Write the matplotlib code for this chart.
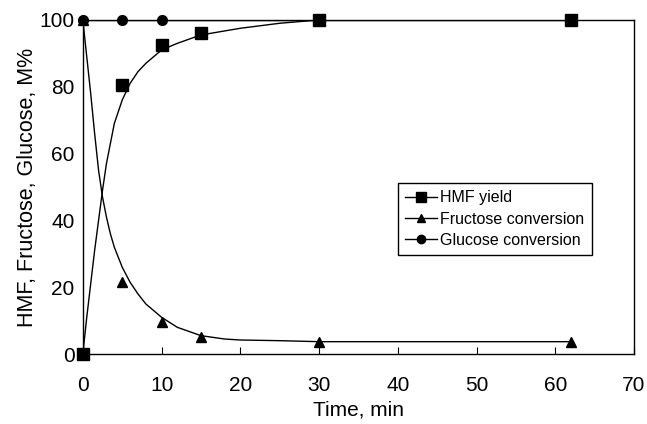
import matplotlib
matplotlib.use("Agg")
import matplotlib.pyplot as plt
from matplotlib.lines import Line2D

plt.rcParams['font.family'] = ['Liberation Sans', 'DejaVu Sans']

# measured data points
hmf_t = [0, 5, 10, 15, 30, 62]
hmf_y = [0, 80.5, 92.5, 96, 100, 100]
fru_t = [0, 5, 10, 15, 30, 62]
fru_y = [100, 21.5, 9.5, 5, 3.5, 3.5]
glu_t = [0, 5, 10]
glu_y = [100, 100, 100]

# fitted curves
hmf_fit_t = [0, 0.5, 1, 1.5, 2, 2.5, 3, 3.5, 4, 5, 6, 7, 8, 10, 12, 15, 20, 25, 30, 62]
hmf_fit_y = [0, 11, 21, 31, 40, 49, 57, 63, 69, 76, 81, 84.5, 87, 91, 93, 95.5, 97.5, 99, 100, 100]
fru_fit_t = [0, 0.5, 1, 1.5, 2, 2.5, 3, 3.5, 4, 5, 6, 7, 8, 10, 12, 15, 18, 20, 25, 30, 62]
fru_fit_y = [100, 89, 78, 66, 55, 47, 41, 36, 32, 26, 21.5, 18, 15, 11, 8, 5.5, 4.5, 4.2, 4, 3.7, 3.7]

fig = plt.figure(figsize=(6.47, 4.24), dpi=100)
ax = fig.add_axes([0.128, 0.165, 0.852, 0.788])

ax.plot(hmf_fit_t, hmf_fit_y, color='black', lw=1)
ax.plot(fru_fit_t, fru_fit_y, color='black', lw=1)
ax.plot(glu_t + [62], glu_y + [100], color='black', lw=1)

ax.plot(glu_t, glu_y, 'o', color='black', ms=7, clip_on=False, zorder=5)
ax.plot(fru_t, fru_y, '^', color='black', ms=7, clip_on=False, zorder=5)
ax.plot(hmf_t, hmf_y, 's', color='black', ms=8, clip_on=False, zorder=6)

h1 = Line2D([], [], color='black', lw=1, marker='s', ms=7)
h2 = Line2D([], [], color='black', lw=1, marker='^', ms=6)
h3 = Line2D([], [], color='black', lw=1, marker='o', ms=6)
leg = ax.legend([h1, h2, h3], ['HMF yield', 'Fructose conversion', 'Glucose conversion'],
                loc='lower left', bbox_to_anchor=(0.572, 0.296), fontsize=11.5,
                frameon=True, fancybox=False, edgecolor='black', framealpha=1,
                handlelength=2.0, handletextpad=0.2, borderpad=0.45, labelspacing=0.4,
                borderaxespad=0)
leg.get_frame().set_linewidth(1)

ax.set_xlim(0, 70)
ax.set_ylim(0, 100)
ax.set_xticks(range(0, 71, 10))
ax.set_yticks(range(0, 101, 20))
ax.tick_params(axis='x', direction='in', length=5, labelsize=15, pad=16)
ax.tick_params(axis='y', length=0, labelsize=15, pad=6)
for s in ax.spines.values():
    s.set_linewidth(1)
ax.set_xlabel('Time, min', fontsize=15, labelpad=4)
ax.set_ylabel('HMF, Fructose, Glucose, M%', fontsize=15.5, labelpad=1)

fig.savefig('out.png', dpi=100)
